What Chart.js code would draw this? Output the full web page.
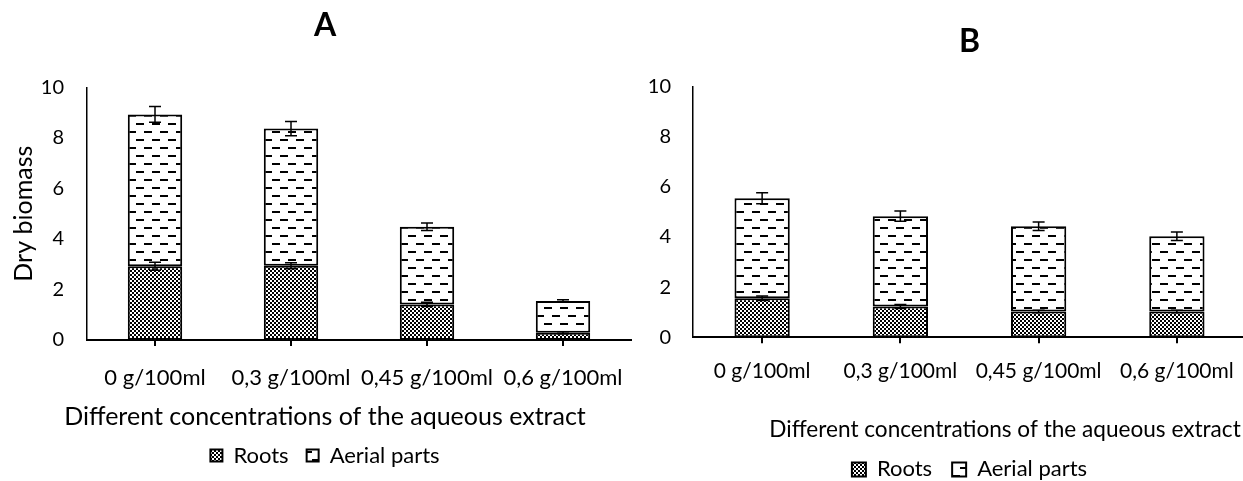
<!DOCTYPE html>
<html>
<head>
<meta charset="utf-8">
<script src="https://cdn.jsdelivr.net/npm/chart.js@4.4.0/dist/chart.umd.min.js"></script>
<style>
  html, body { margin: 0; padding: 0; background: #fff; overflow: hidden; width: 1243px; height: 481px; }
  canvas { position: absolute; top: 0; }
  #chartA { left: 0; }
  #chartB { left: 640px; }
</style>
</head>
<body>
<canvas id="chartA" width="650" height="500"></canvas>
<canvas id="chartB" width="730" height="500"></canvas>
<script>
// data
var categories = ['0 g/100ml', '0,3 g/100ml', '0,45 g/100ml', '0,6 g/100ml'];
var seriesNames = ['Roots', 'Aerial parts'];

var rootsA = [2.92, 2.94, 1.41, 0.29];
var aerialA = [6.01, 5.43, 3.07, 1.25];
var rootsErrA = [0.16, 0.12, 0.08, 0.04];
var aerialErrA = [0.31, 0.28, 0.15, 0.05];

var rootsB = [1.56, 1.23, 1.03, 1.03];
var aerialB = [3.98, 3.60, 3.40, 3.00];
var rootsErrB = [0.09, 0.08, 0.05, 0.05];
var aerialErrB = [0.22, 0.20, 0.17, 0.17];

var yMax = 10;
var yStep = 2;

Chart.defaults.font.family = 'Lato, sans-serif';
Chart.defaults.color = '#000';

function checkerPattern() {
    var c = document.createElement('canvas');
    c.width = 4; c.height = 4;
    var g = c.getContext('2d');
    g.fillStyle = '#fff';
    g.fillRect(0, 0, 4, 4);
    g.fillStyle = '#000';
    g.fillRect(0, 0, 2, 2);
    g.fillRect(2, 2, 2, 2);
    return g.createPattern(c, 'repeat');
}

function dashPattern() {
    var c = document.createElement('canvas');
    c.width = 16; c.height = 16;
    var g = c.getContext('2d');
    g.fillStyle = '#fff';
    g.fillRect(0, 0, 16, 16);
    g.fillStyle = '#000';
    g.fillRect(0, 3, 8, 2);
    g.fillRect(8, 11, 8, 2);
    return g.createPattern(c, 'repeat');
}

var checker = checkerPattern();
var dashes = dashPattern();

// error bars at the top of each stacked segment
var errorBars = {
    id: 'errorBars',
    afterDatasetsDraw: function(chart) {
        var ctx = chart.ctx;
        var y = chart.scales.y;
        ctx.save();
        ctx.strokeStyle = '#000';
        ctx.lineWidth = 1.5;
        chart.data.datasets.forEach(function(ds, i) {
            var meta = chart.getDatasetMeta(i);
            meta.data.forEach(function(bar, j) {
                var e = y.getPixelForValue(0) - y.getPixelForValue(ds.errors[j]);
                ctx.beginPath();
                ctx.moveTo(bar.x, bar.y - e);
                ctx.lineTo(bar.x, bar.y + e);
                ctx.moveTo(bar.x - 6, bar.y - e);
                ctx.lineTo(bar.x + 6, bar.y - e);
                ctx.moveTo(bar.x - 6, bar.y + e);
                ctx.lineTo(bar.x + 6, bar.y + e);
                ctx.stroke();
            });
        });
        ctx.restore();
    }
};

function buildChart(id, o) {
    var ctx = document.getElementById(id).getContext('2d');
    return new Chart(ctx, {
        type: 'bar',
        data: {
            labels: categories,
            datasets: [
                {
                    label: seriesNames[0],
                    data: o.roots,
                    errors: o.rootsErr,
                    backgroundColor: checker,
                    borderColor: '#000',
                    borderWidth: 2,
                    borderSkipped: false,
                    barPercentage: 0.4,
                    categoryPercentage: 1
                },
                {
                    label: seriesNames[1],
                    data: o.aerial,
                    errors: o.aerialErr,
                    backgroundColor: dashes,
                    borderColor: '#000',
                    borderWidth: 2,
                    borderSkipped: false,
                    barPercentage: 0.4,
                    categoryPercentage: 1
                }
            ]
        },
        options: {
            responsive: false,
            animation: false,
            layout: { padding: { bottom: o.padBottom } },
            scales: {
                x: {
                    stacked: true,
                    grid: { display: true, drawOnChartArea: false, offset: false, tickLength: 6, color: '#000', lineWidth: 2 },
                    border: { display: true, color: '#000', width: 2 },
                    ticks: { font: { size: o.catSize }, padding: o.catPad, maxRotation: 0, autoSkip: false },
                    afterFit: function(s) { s.height = o.xHeight; }
                },
                y: {
                    stacked: true,
                    min: 0,
                    max: yMax,
                    grid: { display: false, drawTicks: false },
                    border: { display: true, color: '#000', width: 1.5 },
                    ticks: { stepSize: yStep, font: { size: 20 }, padding: o.tickPad },
                    title: { display: o.yTitle != null, text: o.yTitle, font: { size: 25 }, padding: { top: 9, bottom: 0 } },
                    afterFit: function(s) { s.width = o.yWidth; }
                },
                pad: {
                    axis: 'y',
                    type: 'linear',
                    position: 'right',
                    grid: { display: false, drawTicks: false },
                    border: { display: false },
                    ticks: { display: false },
                    afterFit: function(s) { s.width = o.rightWidth; }
                }
            },
            plugins: {
                tooltip: { enabled: false },
                subtitle: {
                    display: true,
                    text: o.letter,
                    position: 'top',
                    fullSize: o.letterFull,
                    font: { size: 32, weight: 'bold' },
                    padding: o.letterPad
                },
                title: {
                    display: true,
                    text: 'Different concentrations of the aqueous extract',
                    position: 'bottom',
                    weight: 500,
                    fullSize: true,
                    font: { size: o.xTitleSize, weight: 'normal', lineHeight: 0.8 },
                    padding: { top: o.xTitlePad, bottom: 0 }
                },
                legend: {
                    position: 'bottom',
                    fullSize: o.legendFull,
                    labels: { boxWidth: o.boxSize, boxHeight: o.boxSize, font: { size: 22 }, padding: o.legendPad }
                }
            }
        },
        plugins: [errorBars]
    });
}

var chartA = buildChart('chartA', {
    roots: rootsA, aerial: aerialA, rootsErr: rootsErrA, aerialErr: aerialErrA,
    letter: 'A', letterFull: true, letterPad: { top: 6, bottom: 43 },
    yTitle: 'Dry biomass', yWidth: 87, rightWidth: 19, tickPad: 23,
    catSize: 22, catPad: 19, xHeight: 50,
    xTitleSize: 25, xTitlePad: 16.5,
    legendFull: true, legendPad: 18, boxSize: 12, padBottom: 23.5
});

var chartB = buildChart('chartB', {
    roots: rootsB, aerial: aerialB, rootsErr: rootsErrB, aerialErr: aerialErrB,
    letter: 'B', letterFull: false, letterPad: { top: 22, bottom: 26 },
    yTitle: null, yWidth: 53, rightWidth: 124, tickPad: 22,
    catSize: 21, catPad: 15, xHeight: 60,
    xTitleSize: 22.6, xTitlePad: 23,
    legendFull: false, legendPad: 20, boxSize: 14, padBottom: 9.6
});
</script>
</body>
</html>
